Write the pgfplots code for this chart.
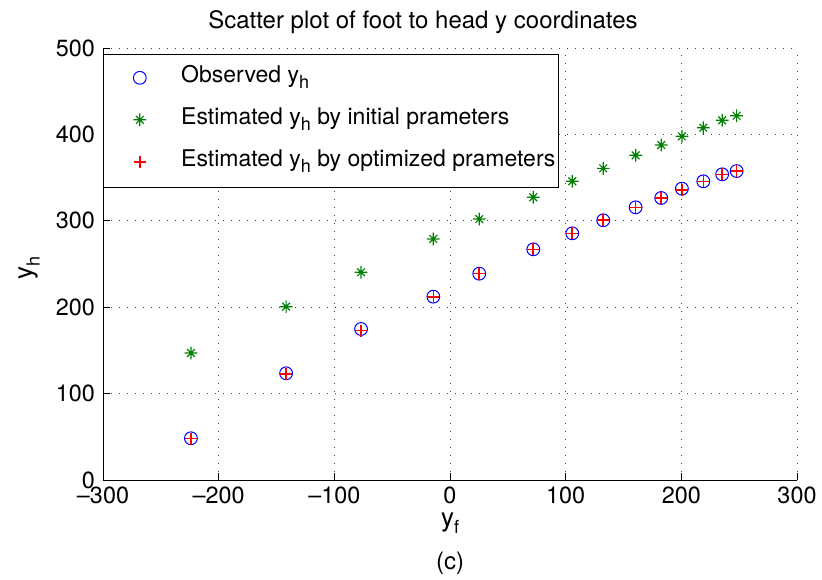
\documentclass[border=0pt]{standalone}
\usepackage{fontspec}
\setmainfont{TeX Gyre Heros}
\usepackage{pgfplots}
\pgfplotsset{compat=1.18}
\definecolor{mgreen}{rgb}{0,0.5,0}
\pgfdeclareplotmark{mstar}{%
 \pgfpathmoveto{\pgfqpoint{-\pgfplotmarksize}{0pt}}\pgfpathlineto{\pgfqpoint{\pgfplotmarksize}{0pt}}%
 \pgfpathmoveto{\pgfqpoint{0pt}{-\pgfplotmarksize}}\pgfpathlineto{\pgfqpoint{0pt}{\pgfplotmarksize}}%
 \pgfpathmoveto{\pgfqpoint{-0.6\pgfplotmarksize}{-0.6\pgfplotmarksize}}\pgfpathlineto{\pgfqpoint{0.6\pgfplotmarksize}{0.6\pgfplotmarksize}}%
 \pgfpathmoveto{\pgfqpoint{-0.6\pgfplotmarksize}{0.6\pgfplotmarksize}}\pgfpathlineto{\pgfqpoint{0.6\pgfplotmarksize}{-0.6\pgfplotmarksize}}%
 \pgfusepathqstroke}
\newcommand{\sub}[1]{\raisebox{-0.55ex}{\fontsize{9}{9}\selectfont #1}}
\begin{document}
\begin{tikzpicture}
\useasboundingbox (-51.5pt,-49.5pt) rectangle (359.5pt,240pt);
\begin{axis}[
  scale only axis, width=347pt, height=216pt,
  xmin=-300, xmax=300, ymin=0, ymax=500,
  xtick={-300,-200,-100,0,100,200,300},
  xticklabels={\textendash300,\textendash200,\textendash100,0,100,200,300},
  ytick={0,100,200,300,400,500},
  /pgf/number format/assume math mode=true,
  ticklabel style={font=\fontsize{11.7}{13}\selectfont},
  yticklabel style={xshift=-0.5pt},
  axis x line*=bottom, axis y line*=left,
  axis line style={black, line width=0.5pt},
  tick align=inside, major tick length=3.5pt,
  tick style={black, line width=0.5pt},
  grid=major,
  major grid style={black!75, line width=0.5pt, dash pattern=on 0.5pt off 3.5pt},
  legend style={at={(rel axis cs:0,0.984)}, anchor=north west, draw=none, fill=none,
     inner xsep=15pt, inner ysep=5pt, row sep=8.5pt,
     font=\fontsize{11.5}{13}\selectfont,
     nodes={inner sep=0pt, text height=8.5pt, text depth=4pt}},
  legend cell align=left,
  /tikz/every odd column/.append style={column sep=17.5pt},
  clip=false,
]
\addplot[only marks, mark=o, mark size=3.2pt, blue, line width=0.5pt] coordinates {
(-224,48.3) (-141.7,123.5) (-76.9,174.8) (-14.4,212.2) (25.3,238.8) (72,267) (105.7,285.5) (132.5,300.6) (160.5,315.6) (182.6,326.4) (200.5,337.2) (219,345.7) (235.3,353.8) (247.8,357.6)};
\addlegendentry{Observed y\sub{h}}
\addplot[only marks, mark=mstar, mark size=3.2pt, mgreen, line width=0.6pt] coordinates {
(-224,147) (-141.7,200.6) (-76.9,240.4) (-14.4,279) (25.3,302) (72,327.2) (105.7,345.7) (132.5,360.7) (160.5,375.8) (182.6,387.7) (200.5,397.8) (219,407.8) (235.3,416.3) (247.8,421.6)};
\addlegendentry{Estimated y\sub{h} by initial prameters}
\addplot[only marks, mark=+, mark size=3pt, color=red, mark options={draw=red, solid}, line width=0.8pt] coordinates {
(-224,48) (-141.7,123) (-76.9,173) (-14.4,212) (25.3,239) (72,267) (105.7,285.5) (132.5,300.6) (160.5,315.6) (182.6,326.4) (200.5,336) (219,345.7) (235.3,353.8) (247.8,357.6)};
\addlegendentry{Estimated y\sub{h} by optimized prameters}
\draw[black, line width=0.5pt, fill=white] (rel axis cs:0,0.678) rectangle (rel axis cs:0.656,0.984);
\end{axis}
\node[font=\fontsize{12}{14}\selectfont] at (160pt,229pt) {Scatter plot of foot to head y coordinates};
\node[font=\fontsize{13}{15}\selectfont] at (173.5pt,-21.5pt) {y\sub{f}};
\node[font=\fontsize{12}{14}\selectfont] at (173.5pt,-41.5pt) {(c)};
\node[font=\fontsize{13}{15}\selectfont, rotate=90] at (-37pt,106pt) {y\sub{h}};
\end{tikzpicture}
\end{document}
